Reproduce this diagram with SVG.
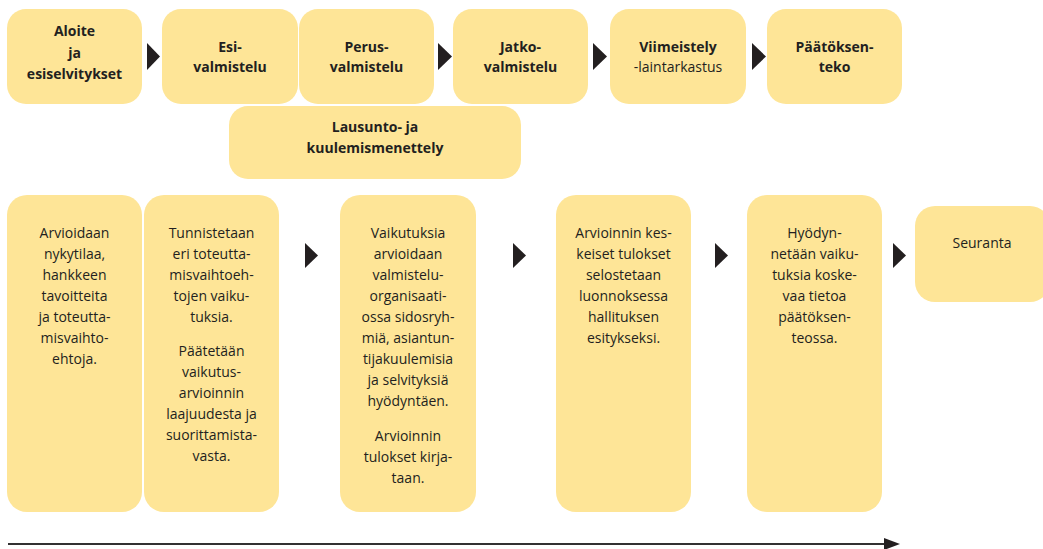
<svg xmlns="http://www.w3.org/2000/svg" width="1043" height="549" viewBox="0 0 1043 549">
<defs>
<style>
.box{fill:#fee597}
.tb{font-family:"Open Sans","Liberation Sans",sans-serif;font-size:14px;font-weight:bold;fill:#231f20;text-anchor:middle}
.tr{font-family:"Open Sans","Liberation Sans",sans-serif;font-size:14px;fill:#231f20;text-anchor:middle}
.arr{fill:#231f20}
</style>
<marker id="ah" markerWidth="8" markerHeight="6" refX="7" refY="3" orient="auto" markerUnits="strokeWidth">
<path d="M0,0 L8,3 L0,6 Z" fill="#231f20"/>
</marker>
</defs>
<rect width="1043" height="549" fill="#ffffff"/>

<g id="n-aloite">
<rect class="box" x="7" y="9" width="135" height="95" rx="19"/>
<text class="tb" x="74.5" y="36">Aloite</text>
<text class="tb" x="74.5" y="57.5">ja</text>
<text class="tb" x="74.5" y="79">esiselvitykset</text>
</g>
<g id="n-esi">
<rect class="box" x="162" y="9" width="136" height="95" rx="19"/>
<text class="tb" x="230" y="51.5">Esi-</text>
<text class="tb" x="230" y="72">valmistelu</text>
</g>
<g id="n-perus">
<rect class="box" x="299" y="9" width="135" height="95" rx="19"/>
<text class="tb" x="366.5" y="51.5">Perus-</text>
<text class="tb" x="366.5" y="72">valmistelu</text>
</g>
<g id="n-jatko">
<rect class="box" x="453" y="9" width="135" height="95" rx="19"/>
<text class="tb" x="520.5" y="51.5">Jatko-</text>
<text class="tb" x="520.5" y="72">valmistelu</text>
</g>
<g id="n-viimeistely">
<rect class="box" x="610" y="9" width="136" height="95" rx="19"/>
<text class="tb" x="678" y="51.5">Viimeistely</text>
<text class="tr" x="678" y="72">-laintarkastus</text>
</g>
<g id="n-paatoksenteko">
<rect class="box" x="767" y="9" width="135" height="95" rx="19"/>
<text class="tb" x="834.5" y="51.5">Päätöksen-</text>
<text class="tb" x="834.5" y="72">teko</text>
</g>
<g id="n-lausunto">
<rect class="box" x="229" y="106" width="292" height="73" rx="19"/>
<text class="tb" x="375" y="131.5">Lausunto- ja</text>
<text class="tb" x="375" y="153">kuulemismenettely</text>
</g>

<g id="n-col1">
<rect class="box" x="7" y="195" width="135" height="317" rx="20"/>
<text class="tr" x="74.5" y="238">Arvioidaan</text>
<text class="tr" x="74.5" y="259">nykytilaa,</text>
<text class="tr" x="74.5" y="280">hankkeen</text>
<text class="tr" x="74.5" y="301">tavoitteita</text>
<text class="tr" x="74.5" y="322">ja toteutta-</text>
<text class="tr" x="74.5" y="343">misvaihto-</text>
<text class="tr" x="74.5" y="364">ehtoja.</text>
</g>
<g id="n-col2">
<rect class="box" x="144" y="195" width="135" height="317" rx="20"/>
<text class="tr" x="211.5" y="238">Tunnistetaan</text>
<text class="tr" x="211.5" y="259">eri toteutta-</text>
<text class="tr" x="211.5" y="280">misvaihtoeh-</text>
<text class="tr" x="211.5" y="301">tojen vaiku-</text>
<text class="tr" x="211.5" y="322">tuksia.</text>
<text class="tr" x="211.5" y="356">Päätetään</text>
<text class="tr" x="211.5" y="377">vaikutus-</text>
<text class="tr" x="211.5" y="398">arvioinnin</text>
<text class="tr" x="211.5" y="419">laajuudesta ja</text>
<text class="tr" x="211.5" y="440">suorittamista-</text>
<text class="tr" x="211.5" y="461">vasta.</text>
</g>
<g id="n-col3">
<rect class="box" x="340" y="195" width="136" height="317" rx="20"/>
<text class="tr" x="408" y="237.5">Vaikutuksia</text>
<text class="tr" x="408" y="258.5">arvioidaan</text>
<text class="tr" x="408" y="279.5">valmistelu-</text>
<text class="tr" x="408" y="300.5">organisaati-</text>
<text class="tr" x="408" y="321.5">ossa sidosryh-</text>
<text class="tr" x="408" y="342.5">miä, asiantun-</text>
<text class="tr" x="408" y="363.5">tijakuulemisia</text>
<text class="tr" x="408" y="384.5">ja selvityksiä</text>
<text class="tr" x="408" y="405.5">hyödyntäen.</text>
<text class="tr" x="408" y="440.5">Arvioinnin</text>
<text class="tr" x="408" y="461.5">tulokset kirja-</text>
<text class="tr" x="408" y="482.5">taan.</text>
</g>
<g id="n-col4">
<rect class="box" x="556" y="195" width="135" height="317" rx="20"/>
<text class="tr" x="623.5" y="237.5">Arvioinnin kes-</text>
<text class="tr" x="623.5" y="258.5">keiset tulokset</text>
<text class="tr" x="623.5" y="279.5">selostetaan</text>
<text class="tr" x="623.5" y="300.5">luonnoksessa</text>
<text class="tr" x="623.5" y="321.5">hallituksen</text>
<text class="tr" x="623.5" y="342.5">esitykseksi.</text>
</g>
<g id="n-col5">
<rect class="box" x="747" y="195" width="135" height="317" rx="20"/>
<text class="tr" x="814.5" y="237.5">Hyödyn-</text>
<text class="tr" x="814.5" y="258.5">netään vaiku-</text>
<text class="tr" x="814.5" y="279.5">tuksia koske-</text>
<text class="tr" x="814.5" y="300.5">vaa tietoa</text>
<text class="tr" x="814.5" y="321.5">päätöksen-</text>
<text class="tr" x="814.5" y="342.5">teossa.</text>
</g>
<g id="n-seuranta">
<rect class="box" x="915" y="206" width="135" height="96" rx="20"/>
<text class="tr" x="982" y="248">Seuranta</text>
</g>

<g id="connectors">
<polygon class="arr" points="147,43 160,56.5 147,70"/>
<polygon class="arr" points="438,43 452,56.5 438,70"/>
<polygon class="arr" points="593,43 607,56.5 593,70"/>
<polygon class="arr" points="752,43 766,56.5 752,70"/>
<polygon class="arr" points="305,243 318,255.5 305,268"/>
<polygon class="arr" points="513,243 526,255.5 513,268"/>
<polygon class="arr" points="715,243 728,255.5 715,268"/>
<polygon class="arr" points="893,243 906,255.5 893,268"/>
<line x1="8" y1="544" x2="886" y2="544" stroke="#333132" stroke-width="2.2"/>
<polygon class="arr" points="884,538 900,544 884,550"/>
</g>
</svg>
